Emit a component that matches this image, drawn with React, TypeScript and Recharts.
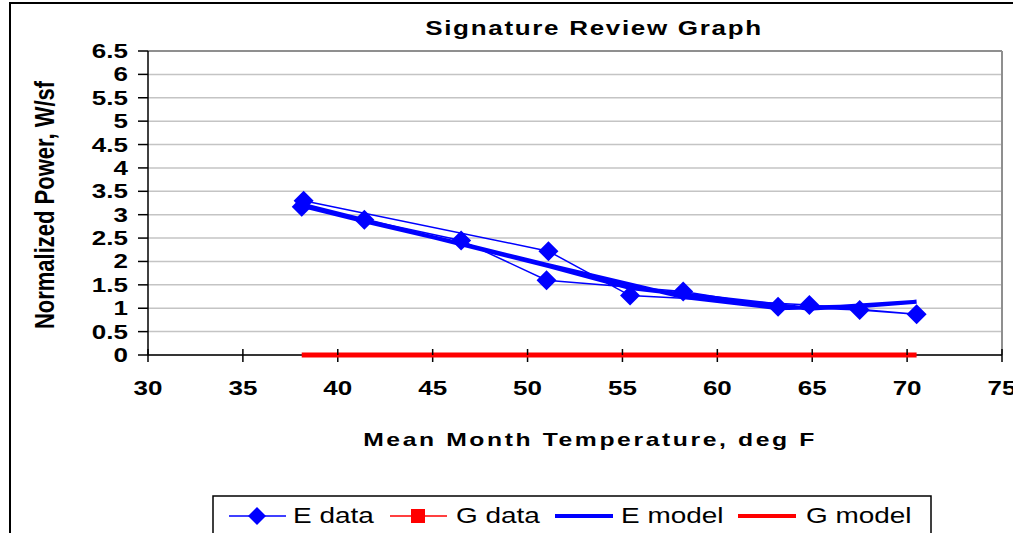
import React from 'react';
import { ComposedChart, Line, XAxis, YAxis, CartesianGrid, ReferenceLine } from 'recharts';

// monthly points, in the order they are joined on the chart
const temps = [38.1, 41.4, 46.5, 51.0, 58.2, 63.2, 67.5, 70.5, 64.85, 55.4, 51.1, 38.2];
const eData = [3.17, 2.89, 2.45, 1.6, 1.36, 1.03, 0.96, 0.87, 1.07, 1.27, 2.22, 3.3];
const eModel = [3.19, 2.86, 2.38, 1.93, 1.24, 1.0, 1.04, 1.14, 0.99, 1.43, 1.9, 3.21];
const gModel = [0, 0, 0, 0, 0, 0, 0, 0, 0, 0, 0, 0];

const xTicks = [30, 35, 40, 45, 50, 55, 60, 65, 70, 75];
const yTicks = [0, 0.5, 1, 1.5, 2, 2.5, 3, 3.5, 4, 4.5, 5, 5.5, 6, 6.5];

const legendItems = [
  { name: 'E data', color: '#0000ff', kind: 'diamond' },
  { name: 'G data', color: '#ff0000', kind: 'square' },
  { name: 'E model', color: '#0000ff', kind: 'thick' },
  { name: 'G model', color: '#ff0000', kind: 'thick' },
];

const FONT = '"Liberation Sans", Arial, sans-serif';
const SX = 1.3; // the picture is stretched sideways

const eRows = temps.map((t, i) => ({ t, v: eData[i] }));
const mRows = temps.map((t, i) => ({ t, v: eModel[i] }));
const gRows = temps.map((t, i) => ({ t, v: gModel[i] }));

const Diamond = (props: any) => {
  const { cx, cy } = props;
  if (cx == null || cy == null) return null;
  const r = 10;
  return (
    <polygon
      key={`d-${cx}-${cy}`}
      points={`${cx},${cy - r} ${cx + r},${cy} ${cx},${cy + r} ${cx - r},${cy}`}
      fill="#0000ff"
    />
  );
};

const XTick = ({ x, payload }: any) => (
  <g>
    <line x1={x} x2={x} y1={349} y2={355} stroke="#000" strokeWidth={1.5} />
    <text
      transform={`translate(${x},395) scale(${SX},1)`}
      textAnchor="middle"
      fontFamily={FONT}
      fontWeight="bold"
      fontSize={20}
      fill="#000"
    >
      {payload.value}
    </text>
  </g>
);

const YTick = ({ y, payload }: any) => (
  <text
    transform={`translate(128,${y + 7}) scale(${SX},1)`}
    textAnchor="end"
    fontFamily={FONT}
    fontWeight="bold"
    fontSize={20}
    fill="#000"
  >
    {payload.value}
  </text>
);

const legendX = [229, 390, 555, 738];
const legendTextX = [293, 456, 621, 806];

const Legend = () => (
  <svg width={1013} height={533} style={{ position: 'absolute', left: 0, top: 0 }}>
    <rect x={213} y={496} width={718} height={60} fill="#fff" stroke="#000" strokeWidth={1.5} />
    {legendItems.map((it, i) => {
      const x0 = legendX[i];
      const cy = 516;
      return (
        <g key={it.name}>
          {it.kind === 'thick' ? (
            <line x1={x0} x2={x0 + 58} y1={cy} y2={cy} stroke={it.color} strokeWidth={4} />
          ) : (
            <line x1={x0} x2={x0 + 57} y1={cy} y2={cy} stroke={it.color} strokeWidth={1.5} />
          )}
          {it.kind === 'diamond' && (
            <polygon
              points={`${x0 + 28},${cy - 9} ${x0 + 37},${cy} ${x0 + 28},${cy + 9} ${x0 + 19},${cy}`}
              fill={it.color}
            />
          )}
          {it.kind === 'square' && <rect x={x0 + 21} y={cy - 7} width={14} height={14} fill={it.color} />}
          <text
            transform={`translate(${legendTextX[i]},${cy + 7}) scale(${SX},1)`}
            fontFamily={FONT}
            fontSize={21.5}
            fill="#000"
          >
            {it.name}
          </text>
        </g>
      );
    })}
  </svg>
);

export default function App() {
  return (
    <div
      style={{
        position: 'absolute',
        left: 0,
        top: 0,
        width: 1013,
        height: 533,
        overflow: 'hidden',
        background: '#fff',
        fontFamily: FONT,
      }}
    >
      <div
        style={{
          position: 'absolute',
          left: 9,
          top: 2,
          width: 1020,
          height: 600,
          border: '2px solid #000',
        }}
      />
      <ComposedChart
        width={1013}
        height={533}
        margin={{ top: 51, right: 11, left: 0, bottom: 0 }}
        style={{ position: 'absolute', left: 0, top: 0 }}
      >
        <CartesianGrid vertical={false} stroke="#c4c4c4" strokeWidth={1.5} />
        <XAxis
          type="number"
          dataKey="t"
          domain={[30, 75]}
          ticks={xTicks}
          interval={0}
          height={178}
          tickSize={7}
          axisLine={{ stroke: '#000', strokeWidth: 1.5 }}
          tickLine={{ stroke: '#000', strokeWidth: 1.5 }}
          tick={<XTick />}
          allowDuplicatedCategory={false}
        />
        <YAxis
          type="number"
          domain={[0, 6.5]}
          ticks={yTicks}
          interval={0}
          width={148}
          tickSize={10}
          axisLine={{ stroke: '#000', strokeWidth: 1.5 }}
          tickLine={{ stroke: '#000', strokeWidth: 1.5 }}
          tick={<YTick />}
        />
        <ReferenceLine y={6.5} stroke="#8f8f8f" strokeWidth={2} />
        <ReferenceLine x={75} stroke="#8f8f8f" strokeWidth={2} />
        <Line
          data={eRows}
          dataKey="v"
          type="linear"
          stroke="#0000ff"
          strokeWidth={1.5}
          dot={<Diamond />}
          activeDot={false}
          isAnimationActive={false}
        />
        <Line
          data={mRows}
          dataKey="v"
          type="linear"
          stroke="#0000ff"
          strokeWidth={4}
          dot={false}
          activeDot={false}
          isAnimationActive={false}
        />
        <Line
          data={gRows}
          dataKey="v"
          type="linear"
          stroke="#ff0000"
          strokeWidth={5}
          dot={false}
          activeDot={false}
          isAnimationActive={false}
          zIndex={1000}
        />
      </ComposedChart>
      <div
        style={{
          position: 'absolute',
          left: 594,
          top: 16,
          fontWeight: 'bold',
          fontSize: 20,
          letterSpacing: 1.3,
          whiteSpace: 'nowrap',
          lineHeight: '24px',
          transform: `translateX(-50%) scaleX(${SX})`,
        }}
      >
        Signature Review Graph
      </div>
      <div
        style={{
          position: 'absolute',
          left: 590,
          top: 428,
          fontWeight: 'bold',
          fontSize: 19,
          letterSpacing: 2,
          whiteSpace: 'nowrap',
          lineHeight: '24px',
          transform: `translateX(-50%) scaleX(${SX})`,
        }}
      >
        Mean Month Temperature, deg F
      </div>
      <div
        style={{
          position: 'absolute',
          left: 45,
          top: 205,
          fontWeight: 'bold',
          fontSize: 22,
          whiteSpace: 'nowrap',
          lineHeight: '26px',
          transform: 'translate(-50%, -50%) scaleX(1.25) rotate(-90deg)',
        }}
      >
        Normalized Power, W/sf
      </div>
      <Legend />
    </div>
  );
}
